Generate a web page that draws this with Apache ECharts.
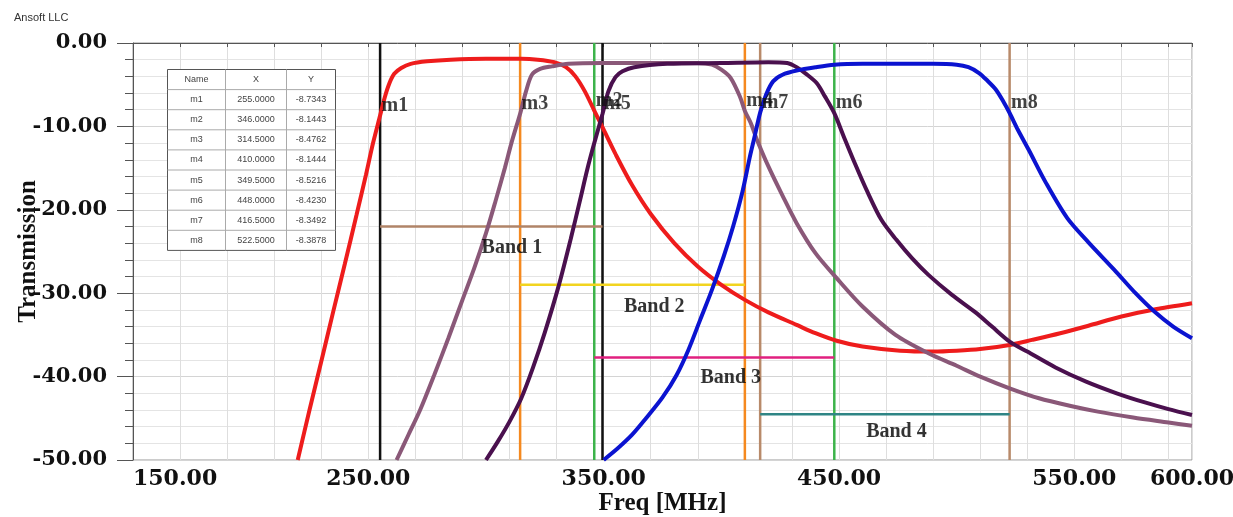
<!DOCTYPE html>
<html><head><meta charset="utf-8">
<script src="https://cdn.jsdelivr.net/npm/echarts@6/dist/echarts.min.js"></script>
<style>html,body{margin:0;padding:0;background:#fff}#c{width:1233px;height:517px}</style>
</head><body><div id="c"></div><script>
// ---- data ----
const xTickLabels = [150, 250, 350, 450, 550, 600];
const redCurve = [[220,-50],[225,-44],[230,-38.2],[235,-32.3],[240,-26.5],[245,-20.6],[249,-15.8],[252,-12],[255,-8.7],[257,-6.5],[259,-4.8],[261,-3.7],[264,-3.0],[268,-2.5],[275,-2.2],[285,-2.0],[300,-1.9],[315,-1.9],[322,-2.0],[329,-2.3],[334,-2.9],[338,-4.0],[342,-5.8],[346,-8.1],[350,-10.4],[355,-13.3],[362,-17],[370,-20.5],[380,-24],[390,-26.8],[400,-29],[410,-30.8],[420,-32.3],[432,-33.8],[440,-34.8],[449,-35.7],[460,-36.4],[476,-36.9],[490,-37.0],[500,-36.9],[510,-36.7],[522.5,-36.2],[532,-35.6],[544,-34.8],[556,-33.9],[570,-32.8],[585,-31.9],[600,-31.2]];
const mauveCurve = [[262,-50],[267,-47],[272,-44],[278,-39.8],[284,-35.4],[290,-30.8],[295,-27],[300,-22.8],[304,-19],[308,-15],[311,-11.8],[314.5,-8.48],[317,-5.8],[319.5,-3.8],[323,-3.1],[328,-2.8],[335,-2.5],[349,-2.4],[370,-2.4],[390,-2.4],[396,-2.6],[400,-3.2],[404,-4.2],[408,-6.5],[410,-8.14],[412.5,-9.6],[415,-11.5],[420,-14.8],[426,-18.3],[432,-21.6],[440,-25.2],[449,-28.2],[460,-31.6],[474,-35],[488,-37.2],[500,-38.7],[510,-40],[522.5,-41.4],[535,-42.6],[548,-43.5],[560,-44.2],[575,-44.9],[590,-45.5],[600,-45.9]];
const purpleCurve = [[300,-50],[305,-47.8],[310,-45.4],[315,-42.6],[320,-38.9],[325,-34.7],[331,-29],[336,-23.5],[340,-18.8],[343,-15.2],[346,-12],[349.5,-8.52],[352,-5.8],[355,-4.1],[358,-3.4],[363,-2.9],[377,-2.5],[400,-2.4],[420,-2.3],[428,-2.4],[432,-2.9],[436,-3.7],[440.5,-4.8],[444,-6.4],[448,-8.42],[452,-11.2],[457,-14.6],[462,-17.8],[468,-21.2],[474.4,-23.6],[481,-25.8],[488,-27.8],[498,-30.2],[508,-32.3],[515,-34],[522.5,-35.8],[530,-37.0],[542,-38.9],[555,-40.6],[568,-42],[580,-43.1],[590,-43.9],[600,-44.6]];
const blueCurve = [[350,-50],[356,-48.6],[362,-47],[368,-45],[375,-42.5],[381,-39.8],[386,-36.8],[391,-33.2],[396,-29.6],[401,-25.6],[405,-22],[409,-17.8],[412,-13.8],[414,-11.4],[416.5,-8.35],[419,-6.2],[422,-4.6],[426,-3.8],[432,-3.3],[440,-2.9],[448,-2.6],[460,-2.5],[475,-2.5],[490,-2.5],[500,-2.6],[505,-2.9],[509.5,-3.6],[513,-4.5],[516.7,-5.6],[520,-7.1],[522.5,-8.39],[526,-10.4],[530.6,-12.8],[538,-16.8],[547,-21],[556,-23.9],[567,-27.2],[576,-30],[584,-32.2],[592,-34],[600,-35.4]];
const markerNames = ['m1','m2','m3','m4','m5','m6','m7','m8'];
const markerX = [255, 346, 314.5, 410, 349.5, 448, 416.5, 522.5];
const markerY = [-8.7343, -8.1443, -8.4762, -8.1444, -8.5216, -8.4230, -8.3492, -8.3878];
const bandNames = ['Band 1','Band 2','Band 3','Band 4'];
const bandStart = [255, 314.5, 346, 416.5];
const bandEnd = [349.5, 410, 448, 522.5];
const bandLevel = [-22, -29, -37.7, -44.5];
const bandLabelX = [311, 371.5, 404, 474.4];
const bandLabelY = [-24.5, -31.6, -40.2, -46.6];
const yMin = -50, yMax = 0;

// ---- styles ----
const curveColors = ['#ee1c1c', '#8a5878', '#4a104e', '#0b13d0'];
const markerColors = ['#111111','#3cb34a','#f5891f','#f5891f','#111111','#3cb34a','#b88a6a','#b88a6a'];
const bandColors = ['#b08468','#f2d41f','#e0207f','#2f8585'];
const serif = 'Liberation Serif, Times New Roman, serif';
const wideSerif = 'DejaVu Serif, serif';

const series = [];
markerX.forEach((x, i) => {
  series.push({type:'line', data:[[x, yMax],[x, yMin]], symbol:'none', silent:true, z:2,
    lineStyle:{color:markerColors[i], width:2.5}});
});
bandStart.forEach((s, i) => {
  series.push({type:'line', data:[[s, bandLevel[i]],[bandEnd[i], bandLevel[i]]], symbol:'none', silent:true, z:2,
    lineStyle:{color:bandColors[i], width:2.5}});
});
[redCurve, mauveCurve, purpleCurve, blueCurve].forEach((d, i) => {
  series.push({type:'line', data:d, symbol:'none', smooth:0.3, z:3,
    lineStyle:{color:curveColors[i], width:4}});
});
series.push({type:'scatter', z:5, symbolSize:1, itemStyle:{color:'rgba(0,0,0,0)'}, silent:true,
  data: markerX.map((x, i) => [x, markerY[i], markerNames[i]]),
  label:{show:true, position:'right', distance:1, offset:[0,-10], formatter:p => p.data[2],
    fontFamily:serif, fontWeight:'bold', fontSize:20, color:'#111'}});
series.push({type:'scatter', z:5, symbolSize:1, itemStyle:{color:'rgba(0,0,0,0)'}, silent:true,
  data: bandLabelX.map((x, i) => [x, bandLabelY[i], bandNames[i]]),
  label:{show:true, position:'inside', formatter:p => p.data[2],
    fontFamily:serif, fontWeight:'bold', fontSize:20, color:'#000'}});

// table
const colW = [58, 61, 49], rowH = 20.1;
const tw = colW[0] + colW[1] + colW[2], th = rowH * (markerNames.length + 1);
const tChildren = [{type:'rect', z:100, shape:{x:0, y:0, width:tw, height:th}, style:{fill:'#fff', stroke:'#555', lineWidth:1}}];
for (let r = 1; r <= markerNames.length; r++) {
  tChildren.push({type:'line', z:101, shape:{x1:0, y1:r*rowH, x2:tw, y2:r*rowH}, style:{stroke:'#aaa', lineWidth:1}});
}
tChildren.push({type:'line', z:101, shape:{x1:colW[0], y1:0, x2:colW[0], y2:th}, style:{stroke:'#aaa', lineWidth:1}});
tChildren.push({type:'line', z:101, shape:{x1:colW[0]+colW[1], y1:0, x2:colW[0]+colW[1], y2:th}, style:{stroke:'#aaa', lineWidth:1}});
const rows = [['Name','X','Y']].concat(markerNames.map((n, i) => [n, markerX[i].toFixed(4), markerY[i].toFixed(4)]));
const colC = [colW[0]/2, colW[0]+colW[1]/2, colW[0]+colW[1]+colW[2]/2];
rows.forEach((row, r) => row.forEach((t, c) => {
  tChildren.push({type:'text', z:102, style:{text:t, x:colC[c], y:r*rowH + rowH/2, align:'center', verticalAlign:'middle',
    font:'9px Arial, Liberation Sans, sans-serif', fill:'#444'}});
}));

const chart = echarts.init(document.getElementById('c'));
chart.setOption({
  animation:false,
  backgroundColor:'#fff',
  title:{text:'Ansoft LLC', left:9, top:7, textStyle:{fontFamily:'Arial, Liberation Sans, sans-serif', fontWeight:'normal', fontSize:11, color:'#333'}},
  grid:{left:133, right:41, top:43, bottom:57, show:true, borderColor:'#999', borderWidth:1, containLabel:false, outerBoundsMode:'none'},
  xAxis:{type:'value', min:150, max:600, interval:20,
    axisLine:{show:true, lineStyle:{color:'#555', width:1}},
    axisTick:{show:true, length:4, lineStyle:{color:'#555'}},
    axisLabel:{formatter:v => xTickLabels.some(t => Math.abs(t - v) < 1e-6) ? v.toFixed(2) : '',
      showMinLabel:true, showMaxLabel:true, hideOverlap:false, margin:8, alignMinLabel:'left',
      fontFamily:wideSerif, fontWeight:'bold', fontSize:22, color:'#111'},
    splitLine:{show:true, lineStyle:{color:'#dedede', width:1}},
    name:'Freq [MHz]', nameLocation:'middle', nameGap:31, nameMoveOverlap:false,
    nameTextStyle:{fontFamily:serif, fontWeight:'bold', fontSize:25, color:'#111'}},
  yAxis:{type:'value', min:yMin, max:yMax, interval:10,
    axisLine:{show:true, lineStyle:{color:'#555', width:1}},
    axisTick:{show:true, length:16, lineStyle:{color:'#555'}},
    minorTick:{show:true, splitNumber:5, length:8, lineStyle:{color:'#555'}},
    minorSplitLine:{show:true, lineStyle:{color:'#e4e4e4'}},
    splitLine:{show:true, lineStyle:{color:'#d4d4d4'}},
    axisLabel:{formatter:v => v.toFixed(2), margin:26, fontFamily:wideSerif, fontWeight:'bold', fontSize:21, color:'#111'},
    name:'Transmission', nameLocation:'middle', nameRotate:90, nameGap:92, nameMoveOverlap:false,
    nameTextStyle:{fontFamily:serif, fontWeight:'bold', fontSize:25, color:'#111'}},
  graphic:[{type:'group', left:165, top:67, z:100, children:tChildren}],
  series: series
});
</script></body></html>
